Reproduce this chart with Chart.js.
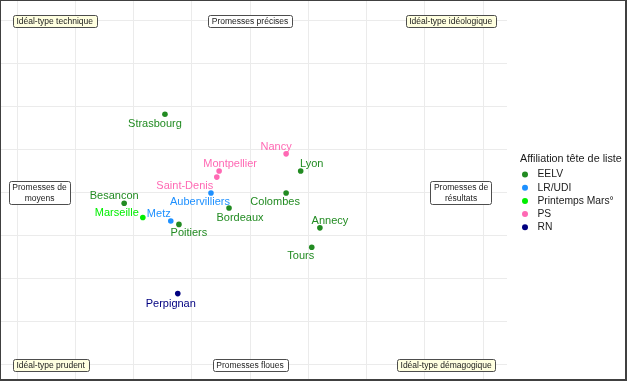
<!DOCTYPE html>
<html>
<head>
<meta charset="utf-8">
<script src="https://cdn.jsdelivr.net/npm/chart.js@4.4.0/dist/chart.umd.min.js"></script>
<style>
  body { margin: 0; background: #fff; }
  #wrap {
    position: relative;
    width: 627px;
    height: 381px;
    box-sizing: border-box;
    border-style: solid;
    border-color: #404040;
    border-width: 1px 2px 2px 1px;
    background: #fff;
  }
</style>
</head>
<body>
<div id="wrap"><canvas id="chart"></canvas></div>
<script>
// values (grid step = 1, centre of the map = 0,0)
const cities = ['Strasbourg', 'Nancy', 'Montpellier', 'Saint-Denis', 'Lyon', 'Besancon', 'Marseille', 'Metz',
  'Poitiers', 'Aubervilliers', 'Colombes', 'Bordeaux', 'Annecy', 'Tours', 'Perpignan'];
const xScores = [-1.46, 0.62, -0.53, -0.57, 0.87, -2.16, -1.84, -1.36, -1.22, -0.67, 0.62, -0.36, 1.20, 1.06, -1.24];
const yScores = [1.83, 0.91, 0.51, 0.37, 0.51, -0.24, -0.57, -0.65, -0.73, 0.00, 0.00, -0.35, -0.81, -1.26, -2.34];
const cityParty = ['EELV', 'PS', 'PS', 'PS', 'EELV', 'EELV', 'Printemps Mars°', 'LR/UDI',
  'EELV', 'LR/UDI', 'EELV', 'EELV', 'EELV', 'EELV', 'RN'];
const parties = ['EELV', 'LR/UDI', 'Printemps Mars°', 'PS', 'RN'];
const gridTicks = [-4, -3, -2, -1, 0, 1, 2, 3, 4];

const partyColors = {
  'EELV': '#228B22',
  'LR/UDI': '#1E90FF',
  'Printemps Mars°': '#00EE00',
  'PS': '#FF69B4',
  'RN': '#000080'
};

// where each repelled label sits relative to its point (px)
const labelOffsets = {
  'Strasbourg': [-10, 10], 'Nancy': [-10, -7], 'Montpellier': [11, -7], 'Saint-Denis': [-32, 9],
  'Lyon': [11, -7], 'Besancon': [-10, -7], 'Marseille': [-26, -5], 'Metz': [-12, -7],
  'Poitiers': [10, 9], 'Aubervilliers': [-11, 9], 'Colombes': [-11, 9], 'Bordeaux': [11, 10],
  'Annecy': [10, -7], 'Tours': [-11, 9], 'Perpignan': [-7, 10]
};

// boxed captions of the map
const captions = [
  { text: 'Idéal-type technique', x: -4.07, y: 4, anchor: 'left', fill: '#FFFFE0' },
  { text: 'Promesses précises', x: 0, y: 4, anchor: 'center', fill: '#FFFFFF' },
  { text: 'Idéal-type idéologique', x: 4.22, y: 4, anchor: 'right', fill: '#FFFFE0' },
  { text: 'Promesses de\nmoyens', x: -4.14, y: 0, anchor: 'left', fill: '#FFFFFF' },
  { text: 'Promesses de\nrésultats', x: 4.15, y: 0, anchor: 'right', fill: '#FFFFFF' },
  { text: 'Idéal-type prudent', x: -4.07, y: -4, anchor: 'left', fill: '#FFFFE0' },
  { text: 'Promesses floues', x: 0, y: -4, anchor: 'center', fill: '#FFFFFF' },
  { text: 'Idéal-type démagogique', x: 4.21, y: -4, anchor: 'right', fill: '#FFFFE0' }
];

const FONT = "'Liberation Sans', Arial, sans-serif";

const datasets = parties.map(p => {
  const pts = [];
  cities.forEach((c, i) => {
    if (cityParty[i] === p) pts.push({ x: xScores[i], y: yScores[i], city: c });
  });
  return {
    label: p,
    data: pts,
    backgroundColor: partyColors[p],
    borderColor: partyColors[p],
    borderWidth: 0,
    pointRadius: 2.8,
    pointStyle: 'circle'
  };
});

const cityLabels = {
  id: 'cityLabels',
  afterDatasetsDraw(chart) {
    const ctx = chart.ctx;
    ctx.save();
    ctx.font = '11px ' + FONT;
    ctx.textAlign = 'center';
    ctx.textBaseline = 'middle';
    chart.data.datasets.forEach((ds, di) => {
      chart.getDatasetMeta(di).data.forEach((el, i) => {
        const name = ds.data[i].city;
        const off = labelOffsets[name] || [0, -9];
        ctx.fillStyle = ds.backgroundColor;
        ctx.fillText(name, el.x + off[0], el.y + off[1]);
      });
    });
    ctx.restore();
  }
};

const captionBoxes = {
  id: 'captionBoxes',
  afterDatasetsDraw(chart) {
    const ctx = chart.ctx;
    const sx = chart.scales.x, sy = chart.scales.y;
    ctx.save();
    ctx.font = '8.5px ' + FONT;
    ctx.textBaseline = 'middle';
    ctx.textAlign = 'center';
    captions.forEach(c => {
      const lines = c.text.split('\n');
      const lineH = 11;
      const w = Math.max(...lines.map(l => ctx.measureText(l).width)) + 7;
      const h = lines.length * lineH + 1;
      const px = sx.getPixelForValue(c.x);
      const py = sy.getPixelForValue(c.y);
      let left = px - w / 2;
      if (c.anchor === 'left') left = px;
      if (c.anchor === 'right') left = px - w;
      const top = py - h / 2;
      ctx.beginPath();
      ctx.roundRect(Math.round(left) + 0.5, Math.round(top) + 0.5, Math.round(w), Math.round(h), 2);
      ctx.fillStyle = c.fill;
      ctx.fill();
      ctx.strokeStyle = '#4d4d4d';
      ctx.lineWidth = 1;
      ctx.stroke();
      ctx.fillStyle = '#1a1a1a';
      lines.forEach((l, k) => {
        ctx.fillText(l, left + w / 2, top + 0.5 + lineH / 2 + k * lineH + 0.5);
      });
    });
    ctx.restore();
  }
};

const sideLegend = {
  id: 'sideLegend',
  afterDraw(chart) {
    const ctx = chart.ctx;
    const x0 = chart.chartArea.right + 13;
    ctx.save();
    ctx.textBaseline = 'middle';
    ctx.textAlign = 'left';
    ctx.fillStyle = '#1a1a1a';
    ctx.font = '10.8px ' + FONT;
    ctx.fillText('Affiliation tête de liste', x0, 158);
    ctx.font = '10.3px ' + FONT;
    chart.data.datasets.forEach((ds, i) => {
      const y = 173.5 + i * 13.2;
      ctx.beginPath();
      ctx.arc(x0 + 5, y, 3, 0, Math.PI * 2);
      ctx.fillStyle = ds.backgroundColor;
      ctx.fill();
      ctx.fillStyle = '#1a1a1a';
      ctx.fillText(ds.label, x0 + 17.5, y);
    });
    ctx.restore();
  }
};

const gridAxis = (min, max) => ({
  type: 'linear',
  min: min,
  max: max,
  afterBuildTicks: s => { s.ticks = gridTicks.map(v => ({ value: v })); },
  ticks: { display: false },
  grid: { color: '#ebebeb', lineWidth: 1, drawTicks: false },
  border: { display: false }
});

new Chart(document.getElementById('chart'), {
  type: 'scatter',
  data: { datasets: datasets },
  options: {
    responsive: true,
    maintainAspectRatio: false,
    animation: false,
    events: [],
    layout: { autoPadding: false, padding: { left: 0, top: 0, right: 118, bottom: 0 } },
    scales: {
      x: gridAxis(-4.2747, 4.4120),
      y: gridAxis(-4.3256, 4.4651)
    },
    plugins: {
      legend: { display: false },
      tooltip: { enabled: false }
    }
  },
  plugins: [captionBoxes, cityLabels, sideLegend]
});
</script>
</body>
</html>
